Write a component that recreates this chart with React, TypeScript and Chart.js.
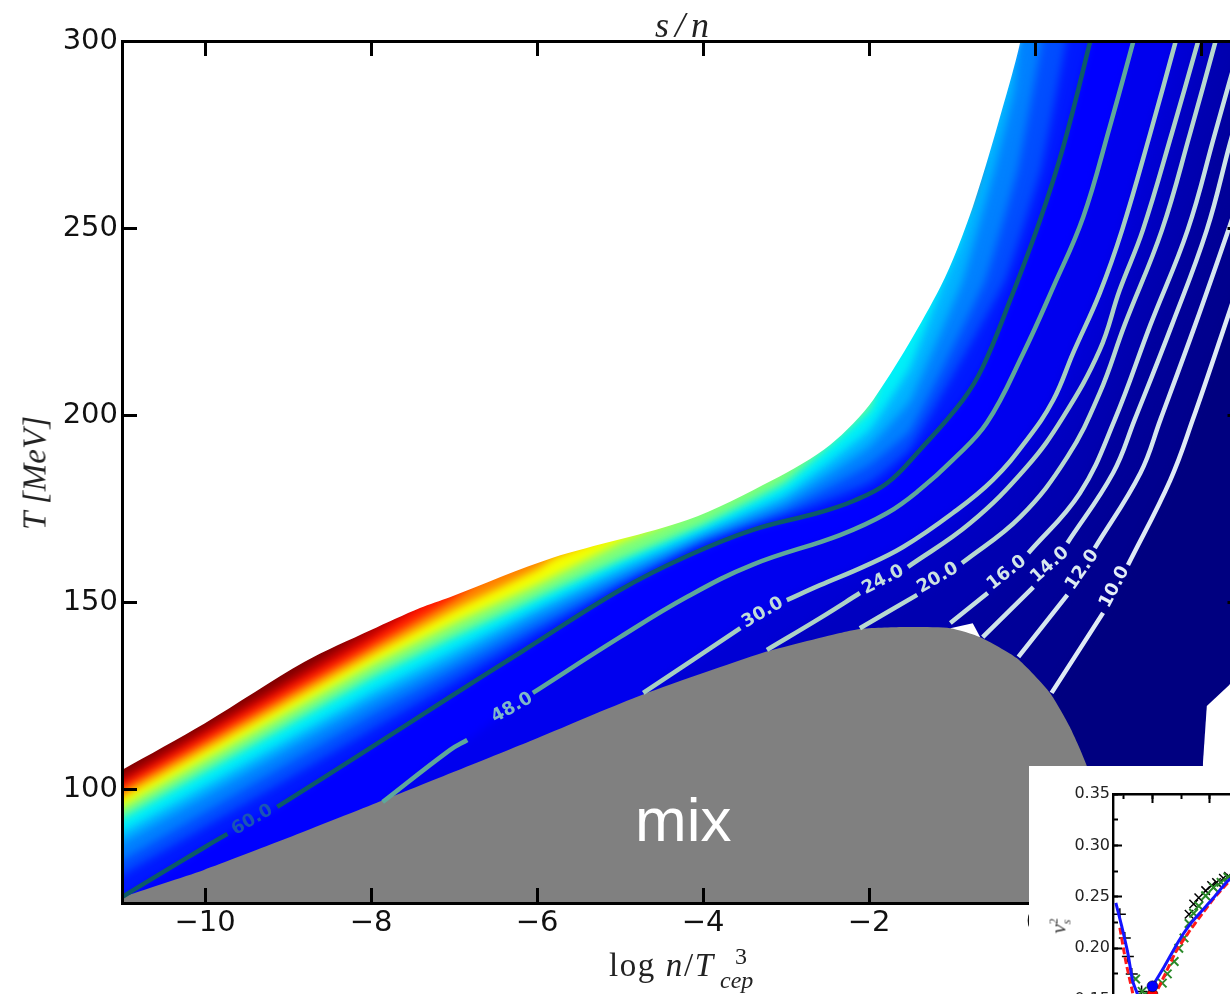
import React, { useEffect, useRef } from "react";
import { Chart, registerables } from "chart.js";

Chart.register(...registerables);

type P = [number, number] | null;

// ---- main panel: T [MeV] against log n/T_cep^3 ----
const topBoundary: P[] = [[-11, 105.1], [-10, 117.6], [-8.8, 134], [-8, 142.5], [-7.41, 148.4], [-7.05, 151.3], [-5.81, 161.8], [-4.19, 171.9], [-3.16, 182.6], [-2.47, 192], [-1.95, 204], [-1.14, 234.2], [-0.75, 255.6], [-0.34, 286], [-0.18, 299.5], [-0.1, 310]];

const band100: P[] = [[-11.5, 112], [-10, 124], [-8, 150], [-7.6, 156]];
const band95: P[] = [[-11.5, 97.5], [-11, 103.5], [-9, 129.3], [-8.3, 139], [-7.4, 153]];
const band87: P[] = [[-11.5, 95.6], [-11, 101.6], [-9, 127.5], [-8, 140.4], [-7.6, 146.5], [-6.9, 158]];
const band75: P[] = [[-11.5, 93.8], [-11, 99.8], [-9, 125.3], [-8, 138], [-7, 151], [-6.7, 156], [-5.7, 168]];
const band62: P[] = [[-11.5, 91.9], [-11, 97.9], [-9, 123.2], [-8, 135.8], [-7, 147.9], [-6, 158.8], [-5.8, 161.8], [-4.3, 177]];
const band50: P[] = [[-11.5, 89.2], [-11, 95.2], [-9, 120.5], [-8, 133.1], [-7, 144.4], [-6, 154.6], [-5, 165.8], [-4.4, 171.5], [-3.3, 187]];
const band37: P[] = [[-11.5, 86.3], [-11, 92.3], [-9, 117.2], [-8, 129.7], [-7, 140.7], [-6, 151.1], [-5, 161.2], [-4, 170.6], [-3, 182.1], [-2, 201.6], [-1.9, 208], [-1, 250]];
const band30: P[] = [[-11.5, 82.5], [-11, 88.5], [-9, 113.4], [-8, 125.9], [-7, 137.2], [-6, 148.4], [-5, 159.1], [-4, 168.7], [-3, 178.9], [-2, 196], [-1.5, 213], [-1.1, 236], [-0.9, 247], [-0.2, 300]];
const band25: P[] = [[-11.5, 79.6], [-11, 85.6], [-9, 110.7], [-8, 123.2], [-7, 134.5], [-6, 146.5], [-5, 157.2], [-4, 167.4], [-3, 176.7], [-2, 191.5], [-1.5, 204], [-0.87, 236], [-0.48, 266.3], [-0.25, 287], [-0.1, 310]];
const band20: P[] = [[-11.5, 75], [-11, 81], [-9, 106.9], [-8, 119.8], [-7, 131.8], [-6, 143.9], [-5, 155.3], [-4, 166], [-3, 174.6], [-2, 186.7], [-1.5, 196], [-0.6, 236], [-0.2, 266.3], [0.08, 299.5], [0.12, 310]];
const band15: P[] = [[-11.5, 71], [-11, 77], [-9, 102.7], [-8, 115.8], [-7, 128.6], [-6, 141.7], [-5, 153.7], [-4, 165.2], [-3, 173], [-2, 181.9], [-1.5, 191], [-0.36, 236], [0.08, 266.3], [0.37, 299.5], [0.4, 310]];

const contour60: P[] = [[-11.5, 64], [-11, 71.1], [-10, 84.5], [-9.73, 88], null, [-9.13, 95.2], [-8.05, 110.4], [-7.05, 124.6], [-6.2, 136.5], [-5, 153.2], [-4.19, 162.3], [-3.4, 169.3], [-2.59, 174], [-2.19, 177], [-1.78, 181.8], [-1.39, 190.6], [-0.87, 204], [-0.63, 212.8], [-0.3, 230.7], [0.06, 252.1], [0.34, 271.7], [0.66, 299.5], [0.7, 304]];
const contour48: P[] = [[-7.86, 96.5], [-7.05, 110.4], [-6.84, 113.1], null, [-6.05, 125.7], [-5, 140.6], [-4.19, 151.4], [-3.4, 160], [-2.35, 167.9], [-1.78, 173.8], [-1.39, 180], [-0.99, 188], [-0.58, 197.9], [-0.14, 216.6], [0.22, 234.2], [0.58, 252.9], [0.9, 277], [1.18, 299.5], [1.22, 303]];
const contour30: P[] = [[-4.72, 125.7], [-3.55, 143], null, [-2.99, 150.5], [-2.59, 154.5], [-2.07, 159.4], [-1.59, 164.7], [-0.99, 173.8], [-0.51, 182.6], [-0.1, 193.3], [0.22, 204], [0.46, 216.6], [0.78, 232.6], [1.05, 249.5], [1.39, 275.4], [1.69, 299.5], [1.73, 303]];
const contour24: P[] = [[-3.23, 137.2], [-2.59, 145.7], [-2.11, 152.4], null, [-1.53, 159.4], [-0.78, 171.1], [-0.1, 186.1], [0.34, 199.5], [0.78, 217.4], [1.02, 233.4], [1.3, 249.5], [1.65, 275.4], [1.96, 299.5], [2, 303]];
const contour20: P[] = [[-2.11, 143], [-1.42, 151.9], null, [-0.88, 160.4], [-0.18, 172.7], [0.39, 188.8], [0.78, 205.9], [1.08, 224.1], [1.53, 249.5], [1.87, 275.4], [2.17, 299.5], [2.21, 303]];
const contour16: P[] = [[-1.02, 144.4], [-0.57, 152.4], null, [-0.08, 163.1], [0.54, 179.1], [0.96, 198.7], [1.39, 224.1], [1.84, 249.5], [2.17, 275.4], [2.35, 289.6], [2.47, 298.9], [2.52, 303]];
const contour14: P[] = [[-0.63, 140.6], [-0.02, 154], null, [0.39, 165.8], [0.94, 184.5], [1.2, 198.7], [1.65, 224.1], [2.07, 249.5], [2.35, 272.7], [2.53, 286.9]];
const contour12: P[] = [[-0.2, 135.3], [0.39, 151.9], null, [0.72, 164.4], [1.27, 184.5], [1.51, 198.7], [1.93, 224.1], [2.33, 249.5], [2.53, 262.8]];
const contour10: P[] = [[0.2, 125.7], [0.82, 147.1], null, [1.12, 159.9], [1.63, 182.6], [1.9, 198.7], [2.35, 228.1], [2.53, 240.1]];
const offTopRight: P = [2.7, 320];

const mixRegion: P[] = [[-11, 71.1], [-10.02, 78.3], [-9.06, 86.4], [-7.93, 96.3], [-6.05, 113.1], [-4.8, 124.6], [-3.28, 136.4], [-2.35, 141.7], [-2.11, 142.8], [-1.59, 143.3], [-1.02, 143], [-0.66, 140.6], [-0.22, 135], [0.18, 125.7], [0.42, 116.6], [0.63, 105.9], [0.84, 89], [1, 69.5]];
const gapTriangle: P[] = [[-1.02, 143], [-0.75, 144.3], [-0.66, 140.6]];
const gapRight: P[] = [[2.02, 70], [2.02, 105.9], [2.07, 122.2], [2.35, 128], [2.5, 130]];

const bandColors = ["#800000", "#b80000", "#ff1500", "#ff8000", "#f5ff00", "#7dff7a", "#00f0f8", "#00b3ff", "#0080ff", "#004dff", "#001aff", "#0000ff", "#0000ee", "#0000d4", "#0000c0", "#0000b0", "#00009f", "#000098", "#00008e", "#000080"];
const contourColors = ["#0c5a68", "#5fa89a", "#a6cfc0", "#aed3c6", "#b8d9d0", "#c6e0e0", "#cee3e8", "#d6e6ef", "#e0ebf5"];
const labelTexts = ["60.0", "48.0", "30.0", "24.0", "20.0", "16.0", "14.0", "12.0", "10.0"];
const labelX = [-9.43, -6.3, -3.28, -1.83, -1.17, -0.34, 0.18, 0.57, 0.96];
const labelT = [91.7, 121.7, 147.1, 155.9, 156.4, 157.8, 159.9, 158.6, 154];
const labelAngle = [-30, -29, -30, -27, -30, -38, -42, -55, -62];
const labelColors = ["#1a55b4", "#7fb8c8", "#c0dcd8", "#c6e0dc", "#cce2e0", "#d4e6e8", "#d8e8ee", "#dceaf2", "#e4eef8"];

// ---- inset: v_s^2 against T ----
const blueLine: P[] = [[118, 0.244], [123, 0.222], [128.5, 0.195], [132.7, 0.168], [137, 0.155], [140, 0.143], [150, 0.163], [160.3, 0.182], [173, 0.207], [182, 0.222], [190.5, 0.233], [203.4, 0.249], [216.4, 0.266], [229, 0.274]];
const redLine: P[] = [[121.5, 0.22], [126.7, 0.187], [131.9, 0.161], [136, 0.143], [151.7, 0.155], [160.3, 0.173], [170.7, 0.197], [182, 0.216], [190.5, 0.229], [203.4, 0.248], [216.4, 0.264], [229.3, 0.275]];
const greenMarks: P[] = [[135.3, 0.17], [141, 0.158], [147.4, 0.153], [158.6, 0.166], [163, 0.175], [169, 0.187], [173, 0.2], [177.6, 0.21], [182, 0.224], [186, 0.234], [190.5, 0.241], [196.5, 0.251], [203.4, 0.259], [210, 0.264], [216, 0.269]];
const blackPlus: P[] = [[121.5, 0.233], [125.8, 0.21], [128.5, 0.192], [131.9, 0.175], [140.5, 0.158]];
const blackCross: P[] = [[182, 0.233], [186, 0.243], [190.5, 0.249], [196.5, 0.256], [201.7, 0.261], [206, 0.264], [212, 0.268], [216.4, 0.27]];
const blueDot: P[] = [[150, 0.163]];
const redDot: P[] = [[150, 0.155]];

const TICK_FONT = "'DejaVu Sans', sans-serif";
const SERIF = "'Liberation Serif', serif";

const solid = (pts: P[]) => pts.filter(Boolean).map((p) => ({ x: (p as number[])[0], y: (p as number[])[1] }));
const gapped = (pts: P[]) => pts.map((p) => (p ? { x: p[0], y: p[1] } : { x: NaN, y: NaN }));
const signed = (v: any) => (Number(v) < 0 ? `\u2212${-Number(v)}` : `${v}`);

function App() {
  const mainRef = useRef<HTMLCanvasElement>(null);
  const insetRef = useRef<HTMLCanvasElement>(null);

  useEffect(() => {
    const bands = [band100, band95, band87, band75, band62, band50, band37, band30, band25, band20, band15, contour60, contour48, contour30, contour24, contour20, contour16, contour14, contour12, contour10];
    const lines = [contour60, contour48, contour30, contour24, contour20, contour16, contour14, contour12, contour10];

    const base = { pointRadius: 0, tension: 0.4, borderWidth: 0, borderColor: "transparent", spanGaps: false };
    const list: any[] = [];
    bands.forEach((b, i) => list.push({ ...base, data: solid([...b, offTopRight]), fill: "start", backgroundColor: bandColors[i], tension: 0.1 }));
    const blurred = list.length;
    list.push({ ...base, data: solid(topBoundary), fill: "end", backgroundColor: "#ffffff", tension: 0.3 });
    list.push({ ...base, data: solid(gapTriangle), fill: "start", backgroundColor: "#ffffff", tension: 0 });
    list.push({ ...base, data: solid(gapRight), fill: "start", backgroundColor: "#ffffff", tension: 0 });
    list.push({ ...base, data: solid(mixRegion), fill: "start", backgroundColor: "#808080", tension: 0.2 });
    lines.forEach((l, i) => list.push({ ...base, data: gapped(l), fill: false, borderWidth: 4.5, borderColor: contourColors[i] }));
    list.forEach((d, i) => (d.order = -i));

    const softBands = {
      id: "softBands",
      beforeDatasetsDraw(chart: any) {
        chart.ctx.filter = "blur(4px)";
      },
      afterDatasetDraw(chart: any, args: any) {
        if (args.index === blurred - 1) chart.ctx.filter = "none";
      },
    };
    const contourLabels = {
      id: "contourLabels",
      afterDatasetsDraw(chart: any) {
        const { ctx, scales } = chart;
        labelTexts.forEach((t, i) => {
          ctx.save();
          ctx.translate(scales.x.getPixelForValue(labelX[i]), scales.y.getPixelForValue(labelT[i]));
          ctx.rotate((labelAngle[i] * Math.PI) / 180);
          ctx.font = `bold 18px ${TICK_FONT}`;
          ctx.fillStyle = labelColors[i];
          ctx.textAlign = "center";
          ctx.textBaseline = "middle";
          ctx.fillText(t, 0, 0);
          ctx.restore();
        });
      },
    };

    const tickGrid = { display: true, drawOnChartArea: false, drawTicks: true, tickLength: -15, tickWidth: 3, tickColor: "#000" };
    const border = { display: true, color: "#000", width: 3, z: 1 };
    const hidden = { display: false };
    const xRange = { min: -11, max: 2.5 };
    const yRange = { min: 69.52, max: 300 };

    const main = new Chart(mainRef.current as any, {
      type: "line",
      data: { datasets: list },
      plugins: [softBands, contourLabels],
      options: {
        responsive: false,
        animation: false,
        devicePixelRatio: 1,
        events: [],
        layout: { padding: 0, autoPadding: false },
        plugins: { legend: { display: false }, tooltip: { enabled: false }, title: { display: false } },
        scales: {
          x: { type: "linear", position: "bottom", z: 1, ...xRange, grid: { ...tickGrid, z: 1 }, border, afterFit: (s: any) => { s.height = 91; }, ticks: { stepSize: 2, includeBounds: false, padding: 18, maxRotation: 0, autoSkip: false, color: "#111", font: { family: TICK_FONT, size: 29 }, callback: signed } },
          xTop: { type: "linear", position: "top", z: 1, ...xRange, grid: { ...tickGrid, z: 1 }, border, afterFit: (s: any) => { s.height = 41; }, ticks: { stepSize: 2, includeBounds: false, autoSkip: false, callback: () => "" } },
          y: { type: "linear", position: "left", z: 1, ...yRange, grid: { ...tickGrid, z: 1 }, border, afterFit: (s: any) => { s.width = 122; }, ticks: { stepSize: 50, includeBounds: false, padding: 19, autoSkip: false, color: "#111", font: { family: TICK_FONT, size: 29 } } },
          yRight: { type: "linear", position: "right", z: 1, ...yRange, grid: { ...tickGrid, z: 1 }, border, afterFit: (s: any) => { s.width = 17.5; }, ticks: { stepSize: 50, includeBounds: false, autoSkip: false, callback: () => "" } },
        } as any,
      },
    } as any);

    const insetGrid = { display: true, drawOnChartArea: false, tickLength: -9, tickWidth: 2, tickColor: "#000" };
    const insetMinor = { display: true, drawOnChartArea: false, tickLength: -5, tickWidth: 2, tickColor: "#000" };
    const insetBorder = { display: true, color: "#000", width: 2.4 };
    const insetX = { min: 115.5, max: 300 };
    const insetY = { min: 0.05, max: 0.35 };
    const plain = { pointRadius: 0, tension: 0.2, fill: false };
    const marks = { showLine: false, pointBackgroundColor: "transparent", pointBorderWidth: 1.5 };

    const inset = new Chart(insetRef.current as any, {
      type: "line",
      data: {
        datasets: [
          { ...plain, data: solid(blueDot), showLine: false, pointRadius: 5.5, pointBackgroundColor: "#0000ff", pointBorderColor: "#000", pointBorderWidth: 0.5, order: 0 },
          { ...plain, data: solid(redDot), showLine: false, pointRadius: 5.5, pointBackgroundColor: "#ff0000", pointBorderColor: "#000", pointBorderWidth: 0.5, order: 1 },
          { ...plain, data: solid(blueLine), borderColor: "#1414ff", borderWidth: 3, order: 2 },
          { ...plain, data: solid(redLine), borderColor: "#ff1a1a", borderWidth: 3, borderDash: [7, 3], order: 3 },
          { ...marks, data: solid(greenMarks), pointStyle: "crossRot", pointRadius: 6, pointBorderColor: "#2a8a2a", pointBorderWidth: 2, order: 4 },
          { ...marks, data: solid(blackPlus), pointStyle: "cross", pointRadius: 6, pointBorderColor: "#000", order: 5 },
          { ...marks, data: solid(blackCross), pointStyle: "crossRot", pointRadius: 6, pointBorderColor: "#000", order: 5 },
        ],
      },
      options: {
        responsive: false,
        animation: false,
        devicePixelRatio: 1,
        events: [],
        layout: { padding: 0, autoPadding: false },
        plugins: { legend: hidden, tooltip: { enabled: false } },
        scales: {
          x: { type: "linear", position: "top", ...insetX, grid: insetGrid, border: insetBorder, afterFit: (s: any) => { s.height = 28; }, ticks: { stepSize: 50, includeBounds: false, autoSkip: false, callback: () => "" } },
          xMinor: { type: "linear", position: "top", weight: -1, ...insetX, grid: insetMinor, border: { display: false }, afterFit: (s: any) => { s.height = 0; }, ticks: { stepSize: 25, includeBounds: false, autoSkip: false, callback: () => "" } },
          y: { type: "linear", position: "left", ...insetY, grid: insetGrid, border: insetBorder, afterFit: (s: any) => { s.width = 84; }, ticks: { stepSize: 0.05, includeBounds: false, padding: 12, autoSkip: false, color: "#222", font: { family: TICK_FONT, size: 16 }, callback: (v: any) => Number(v).toFixed(2) } },
          yMinor: { type: "linear", position: "left", weight: -1, ...insetY, grid: insetMinor, border: { display: false }, afterFit: (s: any) => { s.width = 0; }, ticks: { stepSize: 0.025, includeBounds: false, autoSkip: false, callback: () => "" } },
        } as any,
      },
    } as any);

    return () => {
      main.destroy();
      inset.destroy();
    };
  }, []);

  const abs = (s: React.CSSProperties): React.CSSProperties => ({ position: "absolute", whiteSpace: "nowrap", lineHeight: 1, ...s });

  return (
    <div style={{ position: "absolute", left: 0, top: 0, width: 1230, height: 994, overflow: "hidden", background: "#fff" }}>
      <canvas ref={mainRef} width={1260} height={994} style={{ position: "absolute", left: 0, top: 0 }} />
      <div style={abs({ left: 655, top: 7, fontFamily: SERIF, fontStyle: "italic", fontSize: 36, letterSpacing: 6, color: "#222" })}>s/n</div>
      <div style={abs({ left: 18, top: 473, fontFamily: SERIF, fontStyle: "italic", fontSize: 33, color: "#222", transform: "translate(0,-50%) rotate(-90deg)", transformOrigin: "17px 50%", width: 34, textAlign: "center", display: "flex", justifyContent: "center" })}>T [MeV]</div>
      <div style={abs({ left: 609, top: 949, fontFamily: SERIF, fontSize: 33, letterSpacing: 1.6, color: "#222" })}>
        log <i>n</i>/<i>T</i>
      </div>
      <div style={abs({ left: 720, top: 968, fontFamily: SERIF, fontStyle: "italic", fontSize: 24, color: "#222" })}>cep</div>
      <div style={abs({ left: 735, top: 944, fontFamily: SERIF, fontSize: 24, color: "#222" })}>3</div>
      <div style={abs({ left: 635, top: 789, fontFamily: "'Liberation Sans', sans-serif", fontSize: 62, color: "#fff" })}>mix</div>
      <div style={{ position: "absolute", left: 1029, top: 766, width: 201, height: 228, overflow: "hidden", background: "#fff" }}>
        <canvas ref={insetRef} width={298} height={358} style={{ position: "absolute", left: 0, top: 0 }} />
        <div style={abs({ left: 20, top: 147, fontFamily: SERIF, fontStyle: "italic", fontSize: 21, color: "#333", transform: "rotate(-90deg)" })}>
          v<span style={{ position: "relative", top: -8, fontSize: 12, fontStyle: "normal" }}>2</span><span style={{ position: "relative", top: 5, left: -6, fontSize: 12 }}>s</span>
        </div>
      </div>
    </div>
  );
}

export default App;
